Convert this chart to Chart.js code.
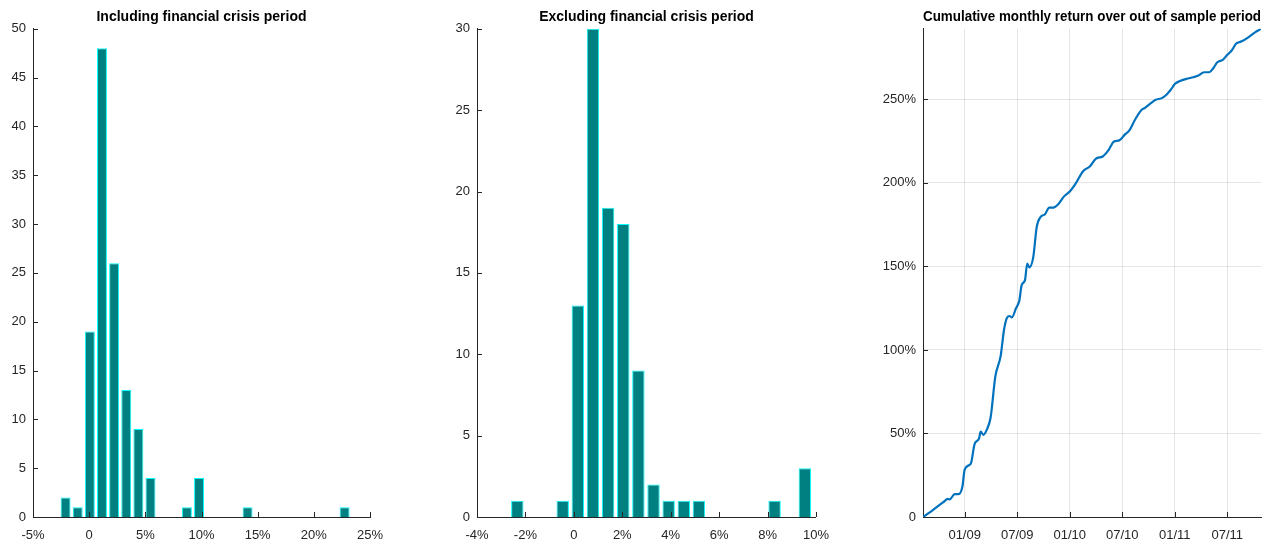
<!DOCTYPE html>
<html>
<head>
<meta charset="utf-8">
<script src="https://cdn.jsdelivr.net/npm/chart.js@4.4.1/dist/chart.umd.min.js"></script>
<style>
  body { margin: 0; background: #fff; }
  #wrap { position: relative; width: 1275px; height: 544px; }
  canvas { position: absolute; top: 0; }
</style>
</head>
<body>
<div id="wrap">
  <canvas id="incl" width="400" height="544" style="left:0"></canvas>
  <canvas id="excl" width="410" height="544" style="left:430px"></canvas>
  <canvas id="cum" width="415" height="544" style="left:860px"></canvas>
</div>
<script>
// histogram of monthly returns, including the crisis period (bin centres in %)
const inclBins = [-2.10, -1.02, 0.06, 1.14, 2.22, 3.30, 4.38, 5.46, 6.54, 7.62, 8.70, 9.78,
                  10.86, 11.94, 13.02, 14.10, 15.18, 16.26, 17.34, 18.42, 19.50, 20.58, 21.66, 22.74];
const inclCounts = [2, 1, 19, 48, 26, 13, 9, 4, 0, 0, 1, 4, 0, 0, 0, 1, 0, 0, 0, 0, 0, 0, 0, 1];
const inclXTicks = [-5, 0, 5, 10, 15, 20, 25];
const inclYTicks = [0, 5, 10, 15, 20, 25, 30, 35, 40, 45, 50];

// same, excluding the crisis period
const exclBins = [-2.335, -1.71, -1.085, -0.46, 0.165, 0.79, 1.415, 2.04, 2.665, 3.29,
                  3.915, 4.54, 5.165, 5.79, 6.415, 7.04, 7.665, 8.29, 8.915, 9.54];
const exclCounts = [1, 0, 0, 1, 13, 30, 19, 18, 9, 2, 1, 1, 1, 0, 0, 0, 0, 1, 0, 3];
const exclXTicks = [-4, -2, 0, 2, 4, 6, 8, 10];
const exclYTicks = [0, 5, 10, 15, 20, 25, 30];

// cumulative return, x = months since 01/2008
const cumMonths = [7.24, 8.18, 9.52, 10.09, 10.29, 10.86, 11.32, 11.73, 12.00, 12.57, 12.75, 13.14,
                   13.63, 13.83, 14.13, 14.58, 14.97, 15.50, 16.11, 16.49, 16.80, 17.10, 17.40, 17.86,
                   18.24, 18.51, 18.89, 19.15, 19.38, 19.84, 20.23, 20.68, 21.17, 21.67, 22.12, 22.69,
                   23.35, 24.03, 24.60, 25.55, 26.32, 27.00, 27.77, 28.41, 29.06, 29.66, 30.31, 30.81,
                   31.46, 32.22, 32.60, 33.17, 33.82, 34.51, 35.08, 35.54, 36.03, 36.52, 37.36, 38.12,
                   38.69, 39.34, 39.95, 40.40, 40.86, 41.48, 42.00, 42.50, 42.99, 43.65, 44.40, 45.17, 45.85];
const cumReturn = [0, 3.4, 8.7, 10.8, 10.5, 13.7, 13.7, 17.9, 28.3, 31.2, 32.6, 43.8,
                   46.8, 51.1, 49.2, 52.9, 59.7, 84.0, 96.4, 111.9, 118.9, 120.3, 119.5, 124.9,
                   129.4, 138.8, 141.8, 151.7, 149.4, 155.7, 173.6, 179.6, 181.2, 185.2, 185.2, 187.2,
                   191.9, 194.9, 198.9, 207.1, 209.9, 214.5, 215.8, 219.4, 224.8, 225.4, 229.0, 231.4,
                   237.8, 243.7, 244.9, 247.3, 249.7, 250.7, 252.9, 255.7, 259.3, 260.8, 262.3, 263.2,
                   264.2, 266.2, 266.2, 268.6, 272.2, 273.6, 276.6, 279.2, 283.2, 284.7, 287.1, 290.1, 292.2];
const dateTicks = [12, 18, 24, 30, 36, 42];
const dateTickLabels = ['01/09', '07/09', '01/10', '07/10', '01/11', '07/11'];
const returnTicks = [0, 50, 100, 150, 200, 250];

const axisColor = '#262626';
Chart.defaults.font.family = "'Liberation Sans', Arial, sans-serif";
Chart.defaults.font.size = 13;
Chart.defaults.color = axisColor;

const pct = (v) => v === 0 ? '0' : v + '%';

// matlab style ticks: short marks pointing into the plot
const inwardTicks = {
    id: 'inwardTicks',
    afterDatasetsDraw(chart) {
        const ctx = chart.ctx;
        const area = chart.chartArea;
        ctx.save();
        ctx.strokeStyle = axisColor;
        ctx.lineWidth = 1;
        ctx.beginPath();
        chart.scales.x.ticks.forEach(t => {
            const px = Math.round(chart.scales.x.getPixelForValue(t.value)) + 0.5;
            ctx.moveTo(px, area.bottom);
            ctx.lineTo(px, area.bottom - 5);
        });
        chart.scales.y.ticks.forEach(t => {
            const py = Math.round(chart.scales.y.getPixelForValue(t.value)) + 0.5;
            ctx.moveTo(area.left, py);
            ctx.lineTo(area.left + 5, py);
        });
        ctx.stroke();
        ctx.restore();
    }
};

function titleOpts(text) {
    return {
        display: true,
        text: text,
        fullSize: false,
        color: '#000',
        font: { size: 14, weight: 'bold' },
        padding: { top: 9, bottom: 3 }
    };
}

function histChart(id, title, bins, counts, xTicks, yTicks, xMin, xMax, yMax, yWidth, padRight) {
    return new Chart(document.getElementById(id), {
        type: 'bar',
        data: {
            datasets: [{
                data: bins.map((b, i) => ({ x: b, y: counts[i] })),
                backgroundColor: '#008080',
                borderColor: '#00ffff',
                borderWidth: 1,
                barPercentage: 0.82,
                categoryPercentage: 1
            }]
        },
        options: {
            responsive: false,
            animation: false,
            layout: { padding: { right: padRight } },
            plugins: {
                legend: { display: false },
                tooltip: { enabled: false },
                title: titleOpts(title)
            },
            scales: {
                x: {
                    type: 'linear',
                    offset: false,
                    min: xMin,
                    max: xMax,
                    afterBuildTicks: (s) => { s.ticks = xTicks.map(v => ({ value: v })); },
                    afterFit: (s) => { s.height = 27; },
                    grid: { display: false, drawTicks: false },
                    border: { color: axisColor },
                    ticks: { padding: 11, maxRotation: 0, autoSkip: false, callback: pct }
                },
                y: {
                    min: 0,
                    max: yMax,
                    afterBuildTicks: (s) => { s.ticks = yTicks.map(v => ({ value: v })); },
                    afterFit: (s) => { s.width = yWidth; },
                    grid: { display: false, drawTicks: false },
                    border: { color: axisColor },
                    ticks: { padding: 7 }
                }
            }
        },
        plugins: [inwardTicks]
    });
}

histChart('incl', 'Including financial crisis period', inclBins, inclCounts,
          inclXTicks, inclYTicks, -5, 25, 50, 33, 30);
histChart('excl', 'Excluding financial crisis period', exclBins, exclCounts,
          exclXTicks, exclYTicks, -4, 10, 30, 47, 24);

new Chart(document.getElementById('cum'), {
    type: 'line',
    data: {
        datasets: [{
            data: cumMonths.map((m, i) => ({ x: m, y: cumReturn[i] })),
            borderColor: '#0072bd',
            borderWidth: 2.2,
            pointRadius: 0,
            cubicInterpolationMode: 'monotone',
            fill: false
        }]
    },
    options: {
        responsive: false,
        animation: false,
        layout: { padding: { right: 14 } },
        plugins: {
            legend: { display: false },
            tooltip: { enabled: false },
            title: titleOpts('Cumulative monthly return over out of sample period')
        },
        scales: {
            x: {
                type: 'linear',
                min: cumMonths[0],
                max: cumMonths[cumMonths.length - 1],
                afterBuildTicks: (s) => { s.ticks = dateTicks.map(v => ({ value: v })); },
                afterFit: (s) => { s.height = 27; },
                grid: { color: 'rgba(38,38,38,0.12)', drawTicks: false },
                border: { color: axisColor },
                ticks: {
                    padding: 11, maxRotation: 0, autoSkip: false,
                    callback: (v) => dateTickLabels[dateTicks.indexOf(v)]
                }
            },
            y: {
                min: 0,
                max: 292.2,
                afterBuildTicks: (s) => { s.ticks = returnTicks.map(v => ({ value: v })); },
                afterFit: (s) => { s.width = 63; },
                grid: { color: 'rgba(38,38,38,0.12)', drawTicks: false },
                border: { color: axisColor },
                ticks: { padding: 7, callback: pct }
            }
        }
    },
    plugins: [inwardTicks]
});
</script>
</body>
</html>
